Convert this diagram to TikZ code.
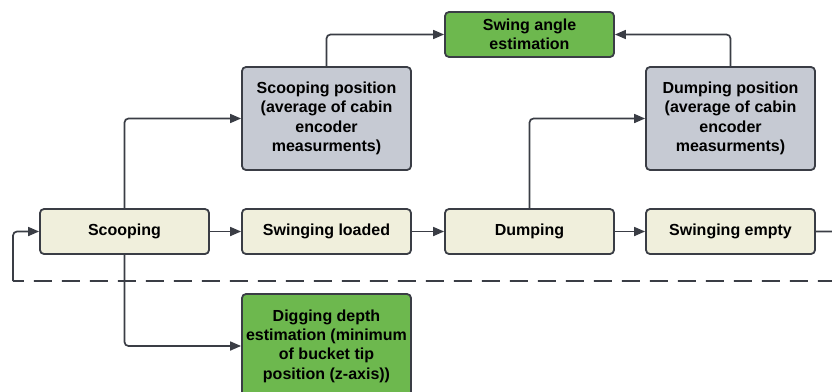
\documentclass[tikz,border=0pt]{standalone}
\usepackage{fontspec}
\setmainfont{Liberation Sans}
\usetikzlibrary{arrows.meta}
\definecolor{edgec}{HTML}{3A3D45}
\definecolor{beige}{HTML}{F0EFDC}
\definecolor{greyc}{HTML}{C6CAD3}
\definecolor{greenc}{HTML}{6DB84E}
\tikzset{
  box/.style={draw=edgec, line width=1.8pt, rounded corners=4pt, minimum width=169pt,
    inner sep=0pt, align=center, font=\bfseries\fontsize{16}{19.3}\selectfont, text=black},
  state/.style={box, fill=beige, minimum height=45pt},
  posbox/.style={box, fill=greyc, minimum height=103pt},
  outbox/.style={box, fill=greenc},
  conn/.style={draw=edgec, line width=1.7pt, rounded corners=4pt,
    -{Triangle[length=11pt,width=9pt]}},
  loopline/.style={draw=edgec, line width=1.7pt, rounded corners=4pt, dash pattern=on 18pt off 10pt}
}
\begin{document}
\begin{tikzpicture}[x=1pt,y=-1pt]
\useasboundingbox (0,0) rectangle (832,391);
\node[outbox, minimum height=45pt] (swa) at (529.5,34.5) {Swing angle\\estimation};
\node[posbox] (sp) at (326.5,118.5) {Scooping position\\(average of cabin\\encoder\\measurments)};
\node[posbox] (dp) at (730.5,118.5) {Dumping position\\(average of cabin\\encoder\\measurments)};
\node[state] (sc) at (124.5,231.5) {Scooping};
\node[state] (sl) at (326.5,231.5) {Swinging loaded};
\node[state] (du) at (529.5,231.5) {Dumping};
\node[state] (se) at (730.5,231.5) {Swinging empty};
\node[outbox, minimum height=104pt] (dd) at (326.5,346) {Digging depth\\estimation (minimum\\of bucket tip\\position (z-axis))};
\coordinate (loopR) at (845,281);
\coordinate (loopL) at (13,281);
\draw[conn] (sc) -- (sl);
\draw[conn] (sl) -- (du);
\draw[conn] (du) -- (se);
\draw[conn] (sc.north) |- (sp.west);
\draw[conn] (sp.north) |- (swa.west);
\draw[conn] (du.north) |- (dp.west);
\draw[conn] (dp.north) |- (swa.east);
\draw[conn] (sc.south) |- (dd.west);
\draw[loopline] (se.east) -| (loopR) -- (loopL);
\draw[conn] (loopL) |- (sc.west);
\end{tikzpicture}
\end{document}
